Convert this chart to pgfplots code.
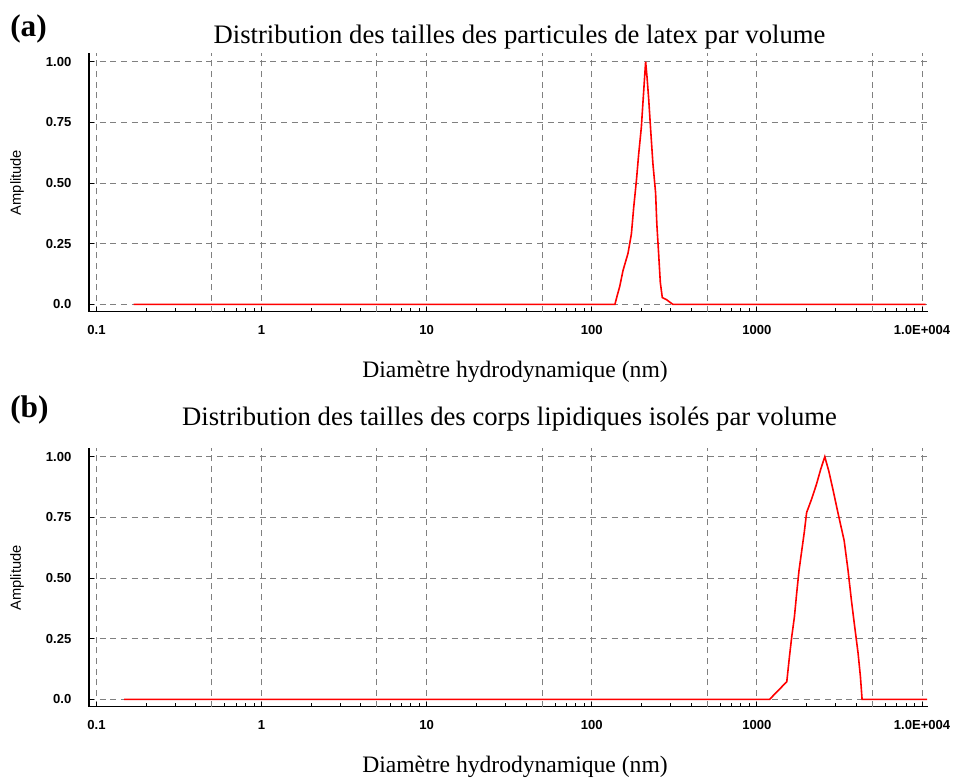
\documentclass[border=0pt]{standalone}
\usepackage{fontspec}
\setmainfont{Liberation Serif}
\newfontfamily\tickfont{Liberation Sans}
\usepackage{pgfplots}
\pgfplotsset{compat=1.18}

\pgfplotsset{
  dlsstyle/.style={
    scale only axis,
    width=629.25pt,
    height=194pt,
    xmin=0.0901, xmax=10870,
    ymin=-0.03, ymax=1.036,
    axis x line*=bottom,
    axis y line*=left,
    axis line style={black, line width=1pt, -},
    xtick={0.1,1,10,100,1000,10000},
    xticklabels={0.1,1,10,100,1000,1.0E+004},
    minor xtick={0.2,0.3,0.4,0.5,0.6,0.7,0.8,0.9,2,3,4,5,6,7,8,9,20,30,40,50,60,70,80,90,200,300,400,500,600,700,800,900,2000,3000,4000,5000,6000,7000,8000,9000},
    extra x ticks={0.5,5,50,500,5000},
    extra x tick labels={},
    extra x tick style={grid=major, major tick length=0pt},
    ytick={0,0.25,0.5,0.75,1},
    yticklabels={0.0,0.25,0.50,0.75,1.00},
    grid=major,
    major grid style={color=black!50, dash pattern=on 4.5pt off 3.5pt, line width=0.75pt},
    tick align=inside,
    major tick length=3.5pt,
    minor tick length=2.5pt,
    tick style={black, line width=0.75pt},
    ticklabel style={font=\tickfont\bfseries\fontsize{9.8}{10}\selectfont},
    xticklabel style={anchor=center, yshift=-13.4pt},
    yticklabel style={anchor=east, inner sep=0pt, xshift=-13pt},
  },
  dlsline/.style={color=red, line width=1.2pt, no marks, sharp plot},
}

\begin{document}
\begin{tikzpicture}
\begin{scope}[x=0.75pt, y=-0.75pt]
  \path[use as bounding box] (0,0) rectangle (955,778);
  % panel (a) texts
  \node[anchor=base west, inner sep=0pt, font=\fontsize{23.5}{26}\selectfont\bfseries] at (10,36) {(a)};
  \node[anchor=base, inner sep=0pt, font=\fontsize{20}{22}\selectfont] at (519.5,43) {Distribution des tailles des particules de latex par volume};
  \node[anchor=base, inner sep=0pt, font=\fontsize{17.7}{20}\selectfont] at (515,377.5) {Diamètre hydrodynamique (nm)};
  \node[rotate=90, inner sep=0pt, font=\tickfont\fontsize{11}{12}\selectfont] at (17,182.5) {Amplitude};
  % panel (b) texts
  \node[anchor=base west, inner sep=0pt, font=\fontsize{23.5}{26}\selectfont\bfseries] at (10,417) {(b)};
  \node[anchor=base, inner sep=0pt, font=\fontsize{20}{22}\selectfont] at (509.5,425) {Distribution des tailles des corps lipidiques isolés par volume};
  \node[anchor=base, inner sep=0pt, font=\fontsize{17.7}{20}\selectfont] at (515,772) {Diamètre hydrodynamique (nm)};
  \node[rotate=90, inner sep=0pt, font=\tickfont\fontsize{11}{12}\selectfont] at (17,578) {Amplitude};
\end{scope}

\begin{semilogxaxis}[dlsstyle, at={(66.75pt,-39.75pt)}, anchor=north west]
\addplot[dlsline] coordinates {
(0.168,0) (138,0) (143,0.04) (147.5,0.073) (154.6,0.14) (165.6,0.21)
(173.7,0.29) (179.4,0.40) (186.3,0.51) (192.3,0.62) (199.6,0.73)
(204.2,0.835) (209.0,0.94) (211.9,1.0) (215.8,0.94) (220.9,0.85)
(227.2,0.72) (234.5,0.58) (243.4,0.46) (247.7,0.33) (253.9,0.21)
(260.0,0.09) (267.3,0.028) (282.6,0.02) (309.7,0) (10500,0)
};
\end{semilogxaxis}

\begin{semilogxaxis}[dlsstyle, at={(66.75pt,-336pt)}, anchor=north west]
\addplot[dlsline] coordinates {
(0.147,0) (1193,0) (1517,0.073) (1574,0.176) (1625,0.258) (1687,0.34)
(1741,0.437) (1798,0.53) (1866,0.61) (1937,0.69) (2000,0.77)
(2143,0.825) (2296,0.887) (2438,0.95) (2577,1.0) (2727,0.94)
(2898,0.86) (3105,0.765) (3375,0.655) (3567,0.53) (3733,0.41)
(3910,0.30) (4100,0.19) (4235,0.094) (4335,0) (10720,0)
};
\end{semilogxaxis}
\end{tikzpicture}
\end{document}
